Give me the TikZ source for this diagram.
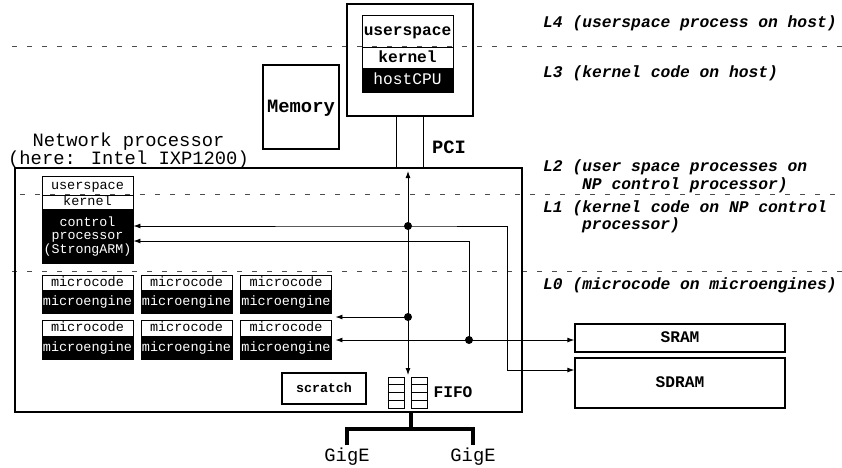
\documentclass[tikz,border=0pt]{standalone}
\usepackage{fontspec}
\newfontfamily\mono{Liberation Mono}
\usetikzlibrary{arrows.meta,calc}
\newcommand\fsz[2]{\fontsize{#1}{#2}\selectfont}
\begin{document}
\begin{tikzpicture}[x=1pt,y=-1pt,
  bx/.style={draw, line width=1.3pt, inner sep=0pt},
  cell/.style={draw, line width=0.9pt, inner sep=0pt, minimum width=91pt},
  blk/.style={fill=black, text=white},
  sA/.style={font=\mono\fsz{13.5}{13.5}, text height=7.7pt, text depth=0pt},
  sAb/.style={font=\mono\bfseries\fsz{13.3}{13.5}, text height=7.7pt, text depth=0pt},
  sB/.style={font=\mono\fsz{16.2}{18}, text height=9.3pt, text depth=0pt},
  sBb/.style={font=\mono\bfseries\fsz{16.2}{18}, text height=9.3pt, text depth=0pt},
  sC/.style={font=\mono\fsz{18.8}{20}, text height=10.8pt, text depth=0pt, inner sep=0pt},
  sCb/.style={font=\mono\bfseries\fsz{18.8}{20}, text height=10.8pt, text depth=0pt, inner sep=0pt},
  lbl/.style={inner sep=0pt, anchor=west, font=\mono\bfseries\itshape\fsz{16.3}{18}, text height=9.3pt, text depth=0pt},
  conn/.style={line width=0.9pt},
  tip/.style={-{Latex[length=7pt,width=5pt]}},
  tipl/.style={{Latex[length=7pt,width=5pt]}-},
  tipb/.style={{Latex[length=7pt,width=5pt]}-{Latex[length=7pt,width=5pt]}},
  dotn/.style={circle, fill=black, inner sep=0pt, minimum size=8pt},
  sepline/.style={draw=black!70, line width=1pt, dash pattern=on 4.5pt off 10.5pt},
  gig/.style={line width=4pt},
]
\useasboundingbox (0,0) rectangle (842,467);

% level separators
\draw[sepline] (12,46) -- (842,46);
\draw[sepline] (20,194) -- (842,194);
\draw[sepline] (12,271) -- (842,271);

% network processor box
\node[bx, minimum width=507pt, minimum height=244pt] (np) at (268.5,290) {};
\node[sC] (npl1) at (128.5,141) {Network processor};
\node[sC] (npl2) at (128.5,159.5) {(here: Intel IXP1200)};

% host
\node[bx, minimum width=126pt, minimum height=112pt] (host) at (410,60) {};
\node[cell, sBb, minimum height=32pt] (hus) at (407.5,31) {userspace};
\node[cell, sBb, minimum height=21pt] (hk) at (407.5,57.5) {kernel};
\node[cell, blk, sB, minimum height=24pt] (hcpu) at (407.5,80) {hostCPU};

% memory
\node[bx, sCb, minimum width=76pt, minimum height=84pt] (mem) at (301,107) {Memory};

% PCI
\draw[conn] (host.south -| 396,0) -- (np.north -| 396,0);
\draw[conn] (host.south -| 423,0) -- (np.north -| 423,0);
\node[sCb] (pci) at (449,148) {PCI};

% control processor stack
\node[cell, sA, minimum height=19pt] (cus) at (87.5,185.5) {userspace};
\node[cell, sA, minimum height=14pt] (ck) at (87.5,202) {kernel};
\node[cell, blk, minimum height=54pt, align=center, font=\mono\fsz{13.3}{13.6}] (ctrl) at (87.5,236.5) {control\\processor\\(StrongARM)};

% microengines
\foreach \x [count=\i] in {87.5,186.5,286} {
  \node[cell, sA, minimum height=15pt] (mca\i) at (\x,282.5) {microcode};
  \node[cell, blk, sA, minimum height=23pt] (mea\i) at (\x,301.5) {microengine};
  \node[cell, sA, minimum height=16pt] (mcb\i) at (\x,328) {microcode};
  \node[cell, blk, sA, minimum height=23pt] (meb\i) at (\x,347.5) {microengine};
}

% scratch and FIFO
\node[bx, sAb, minimum width=84pt, minimum height=31pt] (scr) at (324,388.5) {scratch};
\foreach \x/\n in {396/fa, 419/fb} {
  \node[draw, line width=0.7pt, minimum width=16pt, minimum height=31pt, inner sep=0pt] (\n) at (\x,392.5) {};
  \foreach \k in {1,2,3}
    \draw[line width=0.7pt] ($(\n.north west)!\k/4!(\n.south west)$) -- ($(\n.north east)!\k/4!(\n.south east)$);
}
\node[sBb, inner sep=0pt] (fifol) at (453,393) {FIFO};

% SRAM / SDRAM
\node[bx, sBb, minimum width=210pt, minimum height=28pt] (sram) at (680,338) {SRAM};
\node[bx, sBb, minimum width=210pt, minimum height=50pt] (sdram) at (680,383) {SDRAM};

% bus and connectors
\coordinate (bt) at (408,171);
\coordinate (bb) at (408,375);
\draw[conn, tipb] (bt) -- (bb);
\node[dotn] (d1) at (408,226) {};
\node[dotn] (d2) at (408,317) {};
\node[dotn] (d3) at (469,340) {};
\coordinate (c1) at (507,226);
\coordinate (c2) at (469,241);
\draw[conn, tipb] (ctrl.east |- d1) -- (d1.center) -- (c1) |- (sdram.west |- 0,370);
\draw[conn, tipl] (ctrl.east |- c2) -- (c2) -- (d3.center);
\draw[conn, tip] (d2.center) -- ([xshift=3.5pt]mea3.east |- d2);
\draw[conn, tipb] ([xshift=3.5pt]meb3.east |- d3) -- (sram.west |- d3);

% GigE
\coordinate (gs) at (411,429);
\coordinate (g1) at (347,445);
\coordinate (g2) at (473,445);
\draw[gig] (np.south -| gs) -- (gs);
\draw[gig] (g1) -- (g1 |- gs) -- (g2 |- gs) -- (g2);
\node[sC] (gig1) at (347,456) {GigE};
\node[sC] (gig2) at (473,456) {GigE};

% level labels
\node[lbl] (l4) at (543,22.5) {L4 (userspace process on host)};
\node[lbl] (l3) at (543,72.5) {L3 (kernel code on host)};
\node[lbl] (l2a) at (543,167) {L2 (user space processes on};
\node[lbl] (l2b) at (582,184.5) {NP control processor)};
\node[lbl] (l1a) at (543,208) {L1 (kernel code on NP control};
\node[lbl] (l1b) at (582,225) {processor)};
\node[lbl] (l0) at (543,285) {L0 (microcode on microengines)};
\end{tikzpicture}
\end{document}
